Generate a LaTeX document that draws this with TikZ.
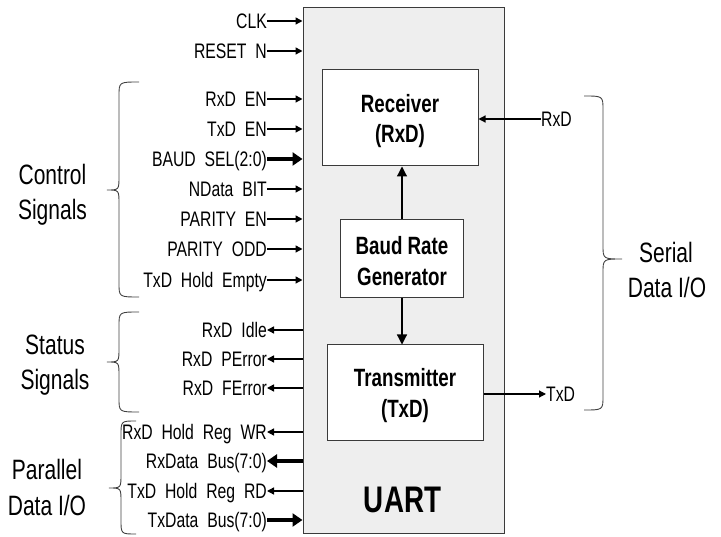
\documentclass[tikz,border=0pt]{standalone}
\usepackage{fontspec}
\setmainfont{Liberation Sans}[FakeStretch=0.75]
\usetikzlibrary{arrows.meta}
\definecolor{boxfill}{HTML}{EEEEEE}
\definecolor{edge}{HTML}{3A3A3A}
\definecolor{bracecol}{HTML}{404040}
\newcommand{\sigfont}{\fontsize{21}{24}\selectfont\spaceskip 0.42em\relax}
\newcommand{\bracel}[7]{% xe xv xt yt ym yb r
  \draw[bracecol, line width=0.9pt] (#1,#4) .. controls (#2,#4) .. (#2,#4+#7) -- (#2,#5-#7) .. controls (#2,#5) .. (#3,#5) .. controls (#2,#5) .. (#2,#5+#7) -- (#2,#6-#7) .. controls (#2,#6) .. (#1,#6);}
\begin{document}
\begin{tikzpicture}[x=1pt,y=-1pt,
  mainbox/.style={draw=edge, fill=boxfill, line width=1pt, inner sep=0pt},
  blk/.style={draw=edge, fill=white, line width=1pt, inner sep=0pt},
  btxt/.style={anchor=base, inner sep=0pt, font=\bfseries\fontsize{25}{30}\selectfont},
  sig/.style={anchor=east, inner sep=0pt, text height=15.5pt, text depth=0pt, font=\sigfont},
  grp/.style={anchor=base, inner sep=0pt, font=\fontsize{28}{34}\selectfont},
  sigarr/.style={line width=1.4pt, -{Triangle[length=7pt,width=7pt]}},
  sigout/.style={line width=1.4pt, {Triangle[length=7pt,width=7pt]}-},
  busarr/.style={line width=4.5pt, -{Triangle[length=10pt,width=13pt]}},
  busout/.style={line width=4.5pt, {Triangle[length=10pt,width=13pt]}-},
  inarr/.style={line width=1.2pt, -{Triangle[length=10pt,width=10pt]}}
]
\useasboundingbox (0,0) rectangle (721,537);
% main block
\node[mainbox, minimum width=201pt, minimum height=525pt] (uart) at (403.5,270.5) {};
\node[anchor=base, inner sep=0pt, font=\bfseries\fontsize{37}{40}\selectfont] (uartlbl) at (402.5,512) {UART};
% internal blocks
\node[blk, minimum width=156pt, minimum height=96pt] (rx) at (400,118) {};
\node[blk, minimum width=123pt, minimum height=78pt] (baud) at (402,259) {};
\node[blk, minimum width=156pt, minimum height=96pt] (tx) at (405,393) {};
\node[btxt] (rx1) at (400,113) {Receiver};
\node[btxt] (rx2) at (400,143) {(RxD)};
\node[btxt] (bd1) at (402,255) {Baud Rate};
\node[btxt] (bd2) at (402,286) {Generator};
\node[btxt] (tx1) at (405,387) {Transmitter};
\node[btxt] (tx2) at (405,418) {(TxD)};
\draw[inarr] (baud.north) -- (baud.north |- rx.south);
\draw[inarr] (baud.south) -- (baud.south |- tx.north);
% serial I/O
\node[sig, anchor=west] (rxd) at (541,119) {RxD};
\node[sig, anchor=west] (txd) at (546,394) {TxD};
\draw[sigarr, line width=1.2pt] (rxd.west) -- (rxd.west -| rx.east);
\draw[sigarr, line width=1.2pt] (txd.west -| tx.east) -- (txd.west);
% left signals
\node[sig] (clk) at (267,21) {CLK};
\node[sig] (rst) at (267,51) {RESET N};
\node[sig] (rxen) at (267,99) {RxD EN};
\node[sig] (txen) at (267,129) {TxD EN};
\node[sig] (baudsel) at (267,159) {BAUD SEL(2:0)};
\node[sig] (ndata) at (267,189) {NData BIT};
\node[sig] (paren) at (267,219) {PARITY EN};
\node[sig] (parodd) at (267,249) {PARITY ODD};
\node[sig] (thempty) at (267,280) {TxD Hold Empty};
\node[sig] (rxidle) at (267,330) {RxD Idle};
\node[sig] (rxperr) at (267,359) {RxD PError};
\node[sig] (rxferr) at (267,388) {RxD FError};
\node[sig] (rxwr) at (267,432) {RxD Hold Reg WR};
\node[sig] (rxbus) at (267,461) {RxData Bus(7:0)};
\node[sig] (txrd) at (267,491) {TxD Hold Reg RD};
\node[sig] (txbus) at (267,520) {TxData Bus(7:0)};
\foreach \n in {clk,rst,rxen,txen,ndata,paren,parodd,thempty}
  \draw[sigarr] (\n.east) -- (\n.east -| uart.west);
\draw[busarr] (baudsel.east) -- (baudsel.east -| uart.west);
\foreach \n in {rxidle,rxperr,rxferr,rxwr,txrd}
  \draw[sigout] (\n.east) -- (\n.east -| uart.west);
\draw[busout] (rxbus.east) -- (rxbus.east -| uart.west);
\draw[busarr] (txbus.east) -- (txbus.east -| uart.west);
% braces
\bracel{139}{119}{107}{82}{190}{297}{14}
\bracel{139}{119}{107}{312}{362}{412}{14}
\bracel{136}{121}{109}{421}{488}{534}{14}
\bracel{584}{603}{622}{96}{259}{410}{14}
% group labels
\node[grp] (ctrl1) at (52.5,185) {Control};
\node[grp] (ctrl2) at (52.5,220) {Signals};
\node[grp] (stat1) at (55,355) {Status};
\node[grp] (stat2) at (55,390) {Signals};
\node[grp] (par1) at (47,480) {Parallel};
\node[grp] (par2) at (47,515) {Data I/O};
\node[grp] (ser1) at (666,263) {Serial};
\node[grp] (ser2) at (667,298) {Data I/O};
\end{tikzpicture}
\end{document}
